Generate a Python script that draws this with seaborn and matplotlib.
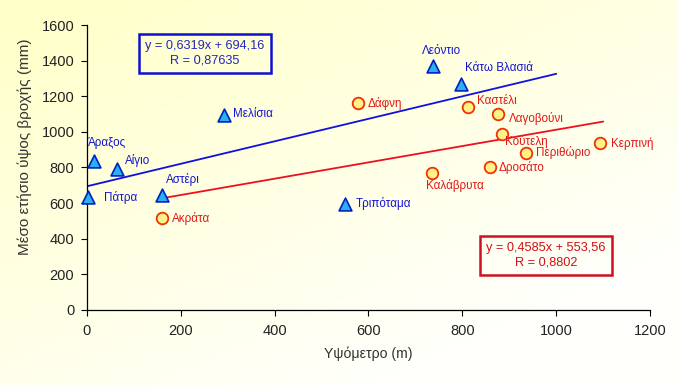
import numpy as np
import pandas as pd
import matplotlib
matplotlib.use("Agg")
import matplotlib.pyplot as plt
import seaborn as sns

# ---- data ----
blue_names = ["Πάτρα", "Άραξος", "Αίγιο", "Αστέρι", "Μελίσια", "Τριπόταμα", "Λεόντιο", "Κάτω Βλασιά"]
blue_alt = [2, 15, 65, 160, 292, 550, 738, 797]
blue_rain = [632, 835, 790, 648, 1095, 595, 1372, 1266]

red_names = ["Ακράτα", "Δάφνη", "Καστέλι", "Λαγοβούνι", "Κούτελη", "Περιθώριο", "Κερπινή", "Δροσάτο", "Καλάβρυτα"]
red_alt = [160, 577, 812, 876, 885, 936, 1094, 859, 736]
red_rain = [515, 1160, 1140, 1101, 990, 882, 936, 800, 770]

blue_fit = (0.6319, 694.16)
red_fit = (0.4585, 553.56)
blue_fit_range = [0, 1000]
red_fit_range = [160, 1100]
blue_eq = "y = 0,6319x + 694,16\nR = 0,87635"
red_eq = "y = 0,4585x + 553,56\nR = 0,8802"

x_ticks = [0, 200, 400, 600, 800, 1000, 1200]
y_ticks = [0, 200, 400, 600, 800, 1000, 1200, 1400, 1600]

# label offsets in pixels (dx, dy)
blue_off = [(16, 0), (-6, 18), (8, 9), (4, 15), (9, 1), (11, 0), (-11, 15), (4, 16)]
red_off = [(10, 0), (10, 0), (9, 6), (11, -5), (3, -8), (10, 0), (11, 0), (9, 0), (-6, -13)]

sns.set_theme(style="white")
plt.rcParams['font.family'] = ['Liberation Sans', 'DejaVu Sans']

fig = plt.figure(figsize=(6.78, 3.85), dpi=100)

# gradient background
bg = fig.add_axes([0, 0, 1, 1], zorder=-10)
h, w = 100, 200
yy, xx = np.mgrid[0:1:h * 1j, 0:1:w * 1j]
t = np.clip(0.55 * xx + 0.7 * yy, 0, 1)
c0 = np.array([1.0, 1.0, 0.78])
c1 = np.array([1.0, 1.0, 0.985])
img = c0[None, None, :] * (1 - t[..., None]) + c1[None, None, :] * t[..., None]
bg.imshow(img, aspect='auto', extent=[0, 1, 0, 1], origin='upper')
bg.axis('off')

ax = fig.add_axes([0.128, 0.195, 0.831, 0.740])
ax.set_facecolor('none')

dfb = pd.DataFrame({"alt": blue_alt, "rain": blue_rain})
dfr = pd.DataFrame({"alt": red_alt, "rain": red_rain})

xb = np.array(blue_fit_range)
ax.plot(xb, blue_fit[0] * xb + blue_fit[1], color='#1010E0', lw=1.3, zorder=2)
xr = np.array(red_fit_range)
ax.plot(xr, red_fit[0] * xr + red_fit[1], color='#EE1020', lw=1.3, zorder=2)

sns.scatterplot(data=dfb, x="alt", y="rain", marker='^', s=85, color='#28B0F0',
                edgecolor='#0020C0', linewidth=1.2, ax=ax, zorder=3, clip_on=False)
sns.scatterplot(data=dfr, x="alt", y="rain", marker='o', s=70, color='#FFF28A',
                edgecolor='#EE3300', linewidth=1.3, ax=ax, zorder=3, clip_on=False)

for n, x, y, (dx, dy) in zip(blue_names, blue_alt, blue_rain, blue_off):
    ax.annotate(n, (x, y), xytext=(dx, dy), textcoords='offset pixels',
                ha='left', va='center', fontsize=8.4, color='#1515D0')
for n, x, y, (dx, dy) in zip(red_names, red_alt, red_rain, red_off):
    ax.annotate(n, (x, y), xytext=(dx, dy), textcoords='offset pixels',
                ha='left', va='center', fontsize=8.4, color='#E01818')

fig.text(205 / 678, 1 - 53.5 / 385, blue_eq, ha='center', va='center', fontsize=9.2,
         color='#2525C0', linespacing=1.3,
         bbox=dict(boxstyle='square,pad=0.5', fc='none', ec='#1010D0', lw=1.8))
fig.text(546 / 678, 1 - 255.5 / 385, red_eq, ha='center', va='center', fontsize=9.2,
         color='#D01010', linespacing=1.3,
         bbox=dict(boxstyle='square,pad=0.5', fc='none', ec='#D01020', lw=1.8))

ax.set_xlim(0, 1200)
ax.set_ylim(0, 1600)
ax.set_xticks(x_ticks)
ax.set_yticks(y_ticks)
ax.tick_params(axis='both', labelsize=10.5, length=4, width=0.8, color='black',
               labelcolor='#222222', direction='out', bottom=True, left=True)
ax.tick_params(axis='x', pad=6)
ax.tick_params(axis='y', pad=5)
for s in ['top', 'right']:
    ax.spines[s].set_visible(False)
for s in ['left', 'bottom']:
    ax.spines[s].set_color('black')
    ax.spines[s].set_linewidth(0.9)
ax.set_xlabel("Υψόμετρο (m)", fontsize=10.2, color='#333333', labelpad=6)
ax.set_ylabel("Μέσο ετήσιο ύψος βροχής (mm)", fontsize=11, color='#333333')
ax.yaxis.set_label_coords(-0.098, 0.572)

fig.savefig("out.png", dpi=100)
